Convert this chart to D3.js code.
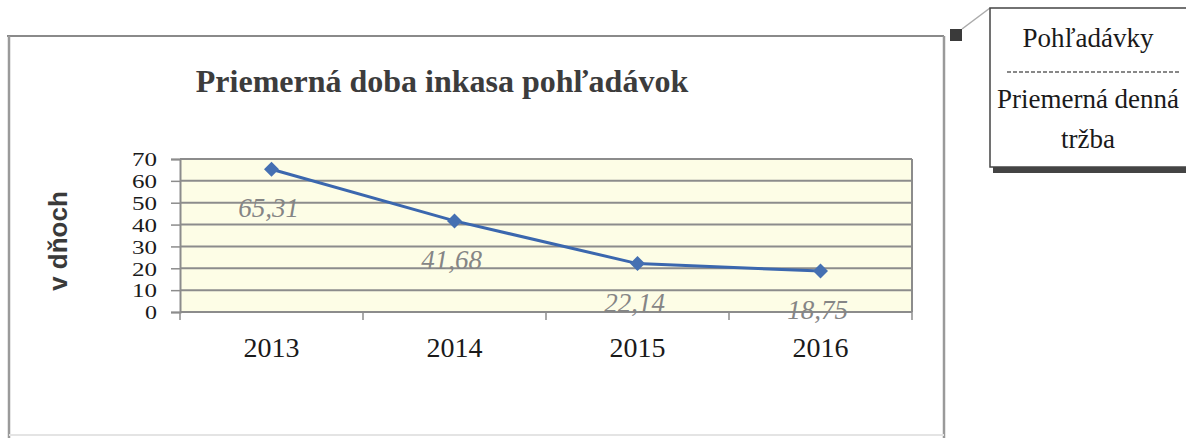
<!DOCTYPE html>
<html>
<head>
<meta charset="utf-8">
<script src="https://cdn.jsdelivr.net/npm/d3@7"></script>
<style>
  body { margin: 0; background: #fff; }
  svg { display: block; }
</style>
</head>
<body>
<div id="viz-container"></div>
<script>
// data
let years = ["2013", "2014", "2015", "2016"];
let values = [65.31, 41.68, 22.14, 18.75];
let valueLabels = ["65,31", "41,68", "22,14", "18,75"];
let yTicks = [0, 10, 20, 30, 40, 50, 60, 70];
let titleText = "Priemerná doba inkasa pohľadávok";
let yTitle = "v dňoch";
let noteLines = ["Pohľadávky", "Priemerná denná", "tržba"];

let w = 1186, h = 438;
let serif = "'Liberation Serif', 'Times New Roman', serif";
let viz = d3.select("#viz-container").append("svg")
    .attr("width", w).attr("height", h);

// outer chart frame
viz.append("line").attr("x1", 7).attr("y1", 36).attr("x2", 944).attr("y2", 36)
    .attr("stroke", "#8a8a8a").attr("stroke-width", 2);
viz.append("line").attr("x1", 9).attr("y1", 36).attr("x2", 9).attr("y2", h)
    .attr("stroke", "#9a9a9a").attr("stroke-width", 2.5);
viz.append("line").attr("x1", 944).attr("y1", 36).attr("x2", 944).attr("y2", h)
    .attr("stroke", "#9a9a9a").attr("stroke-width", 2.5);
viz.append("line").attr("x1", 9).attr("y1", 435).attr("x2", 944).attr("y2", 435)
    .attr("stroke", "#e4e4e4").attr("stroke-width", 2);

// title
viz.append("text")
    .attr("x", 442).attr("y", 92)
    .attr("text-anchor", "middle")
    .attr("font-family", serif)
    .attr("font-weight", "bold")
    .attr("font-size", 32)
    .attr("fill", "#3c3c3c")
    .text(titleText);

// scales
let plotLeft = 180, plotRight = 912, plotTop = 159, plotBottom = 312;
let xScale = d3.scaleBand().domain(years).range([plotLeft, plotRight]);
let yScale = d3.scaleLinear().domain([0, 70]).range([plotBottom, plotTop]);
let xMid = d => xScale(d) + xScale.bandwidth() / 2;

// plot area
viz.append("rect")
    .attr("x", plotLeft).attr("y", plotTop)
    .attr("width", plotRight - plotLeft).attr("height", plotBottom - plotTop)
    .attr("fill", "#fdfde6");

// gridlines
viz.append("g").selectAll("line").data(yTicks).enter().append("line")
    .attr("x1", plotLeft).attr("x2", plotRight)
    .attr("y1", d => yScale(d)).attr("y2", d => yScale(d))
    .attr("stroke", "#8c8c8c").attr("stroke-width", 2);
viz.append("line").attr("x1", plotRight).attr("x2", plotRight)
    .attr("y1", plotTop).attr("y2", plotBottom)
    .attr("stroke", "#8c8c8c").attr("stroke-width", 2);

// y axis
let yAxisGroup = viz.append("g").attr("class", "yAxis")
    .attr("transform", "translate(" + plotLeft + ",0)");
yAxisGroup.call(d3.axisLeft(yScale).tickValues(yTicks).tickSize(9).tickPadding(14));
yAxisGroup.select(".domain").attr("stroke", "#8c8c8c").attr("stroke-width", 2);
yAxisGroup.selectAll(".tick line").attr("stroke", "#8c8c8c").attr("stroke-width", 1.5);
yAxisGroup.selectAll(".tick text")
    .attr("font-family", serif)
    .attr("font-size", 19)
    .attr("textLength", 25)
    .attr("lengthAdjust", "spacingAndGlyphs")
    .attr("fill", "#1a1a1a")
    .attr("dy", "0.36em");
// single-digit zero keeps its own width
yAxisGroup.selectAll(".tick text").filter(d => d === 0).attr("textLength", 12);

// x axis: ticks on category boundaries
let xAxisGroup = viz.append("g").attr("class", "xAxis");
let edges = years.map(d => xScale(d)).concat([plotRight]);
xAxisGroup.selectAll("line").data(edges).enter().append("line")
    .attr("x1", d => d).attr("x2", d => d)
    .attr("y1", plotBottom).attr("y2", plotBottom + 8)
    .attr("stroke", "#8c8c8c").attr("stroke-width", 1.5);
xAxisGroup.selectAll("text").data(years).enter().append("text")
    .attr("x", d => xMid(d)).attr("y", 357)
    .attr("text-anchor", "middle")
    .attr("font-family", serif)
    .attr("font-size", 28)
    .attr("fill", "#1a1a1a")
    .text(d => d);

// y axis title
viz.append("text")
    .attr("transform", "translate(67,241) rotate(-90)")
    .attr("text-anchor", "middle")
    .attr("font-family", "'Liberation Sans', Arial, sans-serif")
    .attr("font-weight", "bold")
    .attr("font-size", 26)
    .attr("fill", "#3a3a3a")
    .text(yTitle);

// line
let lineData = years.map((y, i) => ({year: y, value: values[i], label: valueLabels[i]}));
let lineGenerator = d3.line().x(d => xMid(d.year)).y(d => yScale(d.value));
viz.append("path")
    .datum(lineData)
    .attr("fill", "none")
    .attr("stroke", "#3b67ae")
    .attr("stroke-width", 3)
    .attr("d", lineGenerator);

// diamond markers
viz.selectAll(".marker").data(lineData).enter().append("path")
    .attr("class", "marker")
    .attr("d", "M0,-7.5L7.5,0L0,7.5L-7.5,0Z")
    .attr("transform", d => "translate(" + xMid(d.year) + "," + yScale(d.value) + ")")
    .attr("fill", "#4570b2");

// data labels
viz.selectAll(".dlabel").data(lineData).enter().append("text")
    .attr("class", "dlabel")
    .attr("x", d => xMid(d.year) - 3)
    .attr("y", d => yScale(d.value) + 48)
    .attr("text-anchor", "middle")
    .attr("font-family", serif)
    .attr("font-style", "italic")
    .attr("font-size", 27)
    .attr("fill", "#858585")
    .text(d => d.label);

// comment marker and note box
viz.append("rect").attr("x", 950).attr("y", 29).attr("width", 12).attr("height", 12)
    .attr("fill", "#3a3a3a");
viz.append("line").attr("x1", 962).attr("y1", 29).attr("x2", 990).attr("y2", 8)
    .attr("stroke", "#aaaaaa").attr("stroke-width", 1.5);
viz.append("rect").attr("x", 993).attr("y", 11).attr("width", 200).attr("height", 162)
    .attr("fill", "#444");
viz.append("rect").attr("x", 990).attr("y", 8).attr("width", 200).attr("height", 159)
    .attr("fill", "#fff").attr("stroke", "#444").attr("stroke-width", 1.5);
viz.append("line").attr("x1", 1007).attr("x2", 1180).attr("y1", 72).attr("y2", 72)
    .attr("stroke", "#888").attr("stroke-width", 2).attr("stroke-dasharray", "4,2");
let noteY = [47, 108, 148];
viz.selectAll(".note").data(noteLines).enter().append("text")
    .attr("class", "note")
    .attr("x", 1088).attr("y", (d, i) => noteY[i])
    .attr("text-anchor", "middle")
    .attr("font-family", serif)
    .attr("font-size", 27)
    .attr("fill", "#1a1a1a")
    .text(d => d);
</script>
</body>
</html>
